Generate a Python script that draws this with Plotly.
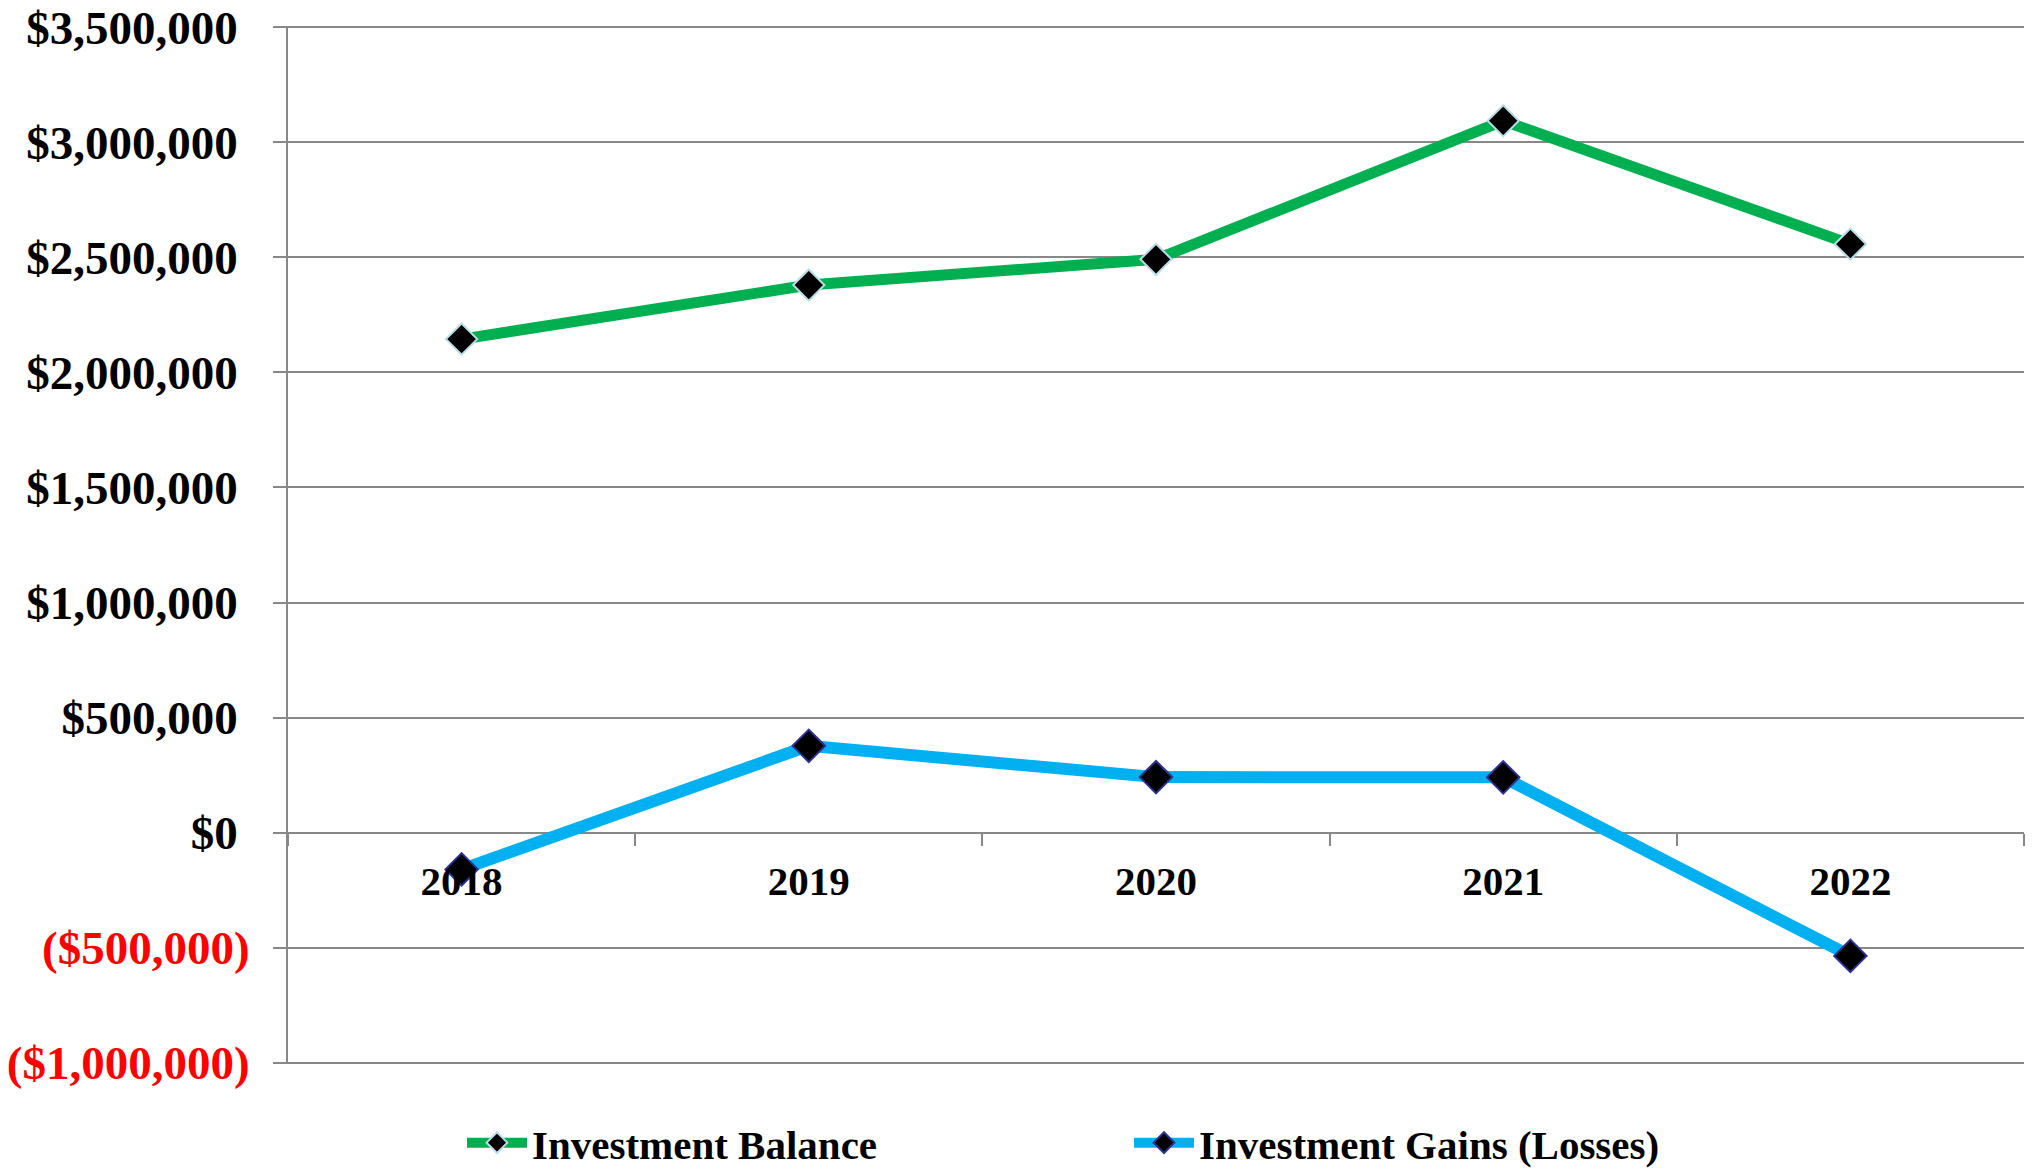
import plotly.graph_objects as go

# Fiscal years and series values (US dollars)
years = ["2018", "2019", "2020", "2021", "2022"]
investment_balance = [2145000, 2380000, 2492000, 3094000, 2558000]
investment_gains = [-160000, 377000, 241000, 240000, -536000]

# Y-axis ticks and labels (negative amounts shown in red, accounting style)
y_tick_values = [-1000000, -500000, 0, 500000, 1000000, 1500000,
                 2000000, 2500000, 3000000, 3500000]
y_tick_labels = ["($1,000,000)", "($500,000)", "$0", "$500,000", "$1,000,000",
                 "$1,500,000", "$2,000,000", "$2,500,000", "$3,000,000", "$3,500,000"]

GREEN = "#00B050"
BLUE = "#00B0F0"
GRID = "#888888"
FONT = "Liberation Serif"

W, H = 2032, 1170
M_L, M_R, M_T, M_B = 288, 8, 26, 106
plot_w = W - M_L - M_R
plot_h = H - M_T - M_B

# a hair of padding so the outermost gridlines are kept at the plot edges
Y_PAD = 6000


def fmt_tick(v, label):
    if v < 0:
        return f"<span style='color:#FF0000'>{label}</span>"
    return label + "\u00a0"


fig = go.Figure()

fig.add_trace(go.Scatter(
    x=years, y=investment_balance, name="Investment Balance",
    mode="lines+markers",
    line=dict(color=GREEN, width=11),
    marker=dict(symbol="diamond", size=24, color="black",
                line=dict(color="#B7DEE8", width=2)),
    legend="legend",
))

fig.add_trace(go.Scatter(
    x=years, y=investment_gains, name="Investment Gains (Losses)",
    mode="lines+markers",
    line=dict(color=BLUE, width=12),
    marker=dict(symbol="diamond", size=25, color="black",
                line=dict(color="#2E3192", width=2)),
    legend="legend2",
))

legend_font = dict(family=FONT, size=41, color="black", weight="bold")


def px_to_paper_x(px):
    return (px - M_L) / plot_w


def px_to_paper_y(py):
    return (H - M_B - py) / plot_h


y_lo, y_hi = -1000000 - Y_PAD, 3500000 + Y_PAD

fig.update_layout(
    width=W, height=H,
    margin=dict(l=M_L, r=M_R, t=M_T, b=M_B, autoexpand=False),
    paper_bgcolor="white", plot_bgcolor="white",
    font=dict(family=FONT, color="black"),
    showlegend=True,
    legend=dict(x=px_to_paper_x(462), xanchor="left",
                y=px_to_paper_y(1143), yanchor="middle",
                orientation="h", font=legend_font, itemwidth=60,
                bgcolor="rgba(0,0,0,0)"),
    legend2=dict(x=px_to_paper_x(1129), xanchor="left",
                 y=px_to_paper_y(1143), yanchor="middle",
                 orientation="h", font=legend_font, itemwidth=60,
                 bgcolor="rgba(0,0,0,0)"),
    xaxis=dict(
        type="category",
        range=[-0.5, len(years) - 0.5],
        anchor="free", position=(0 - y_lo) / (y_hi - y_lo),
        showline=False,
        ticks="outside", tickson="boundaries", ticklen=12,
        tickcolor=GRID, tickwidth=2,
        showgrid=False, zeroline=False,
        tickfont=dict(family=FONT, size=41, color="black", weight="bold"),
        ticklabelstandoff=20,
    ),
    yaxis=dict(
        range=[y_lo, y_hi],
        tickvals=y_tick_values,
        ticktext=[fmt_tick(v, t) for v, t in zip(y_tick_values, y_tick_labels)],
        showline=True, linecolor=GRID, linewidth=2,
        ticks="outside", ticklen=13, tickcolor=GRID, tickwidth=2,
        showgrid=True, gridcolor=GRID, gridwidth=2,
        zeroline=True, zerolinecolor=GRID, zerolinewidth=2,
        tickfont=dict(family=FONT, size=47, color="black", weight="bold"),
        ticklabelstandoff=14,
    ),
)

fig.write_html("out.html")
